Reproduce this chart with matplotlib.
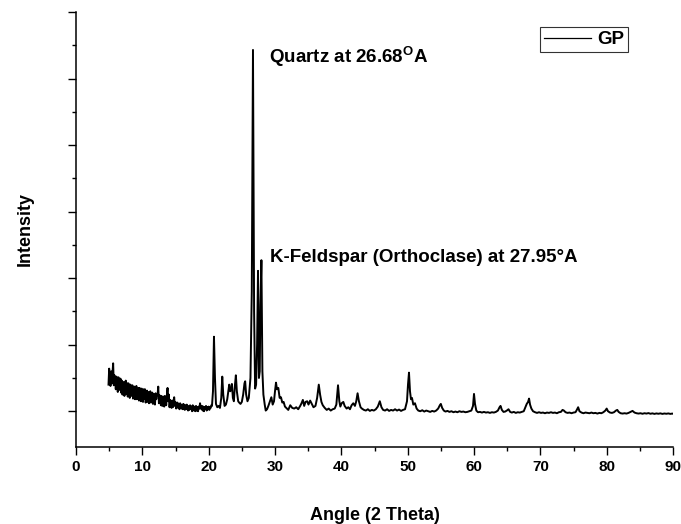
import numpy as np
import matplotlib
matplotlib.use("Agg")
import matplotlib.pyplot as plt
from matplotlib.ticker import MultipleLocator, FixedLocator

plt.rcParams['font.family'] = ['Liberation Sans', 'DejaVu Sans']
plt.rcParams['mathtext.fontset'] = 'custom'
plt.rcParams['mathtext.bf'] = 'Liberation Sans:bold'
plt.rcParams['mathtext.rm'] = 'Liberation Sans'

# low-angle part of the scan: 4.9 to 20.4 deg, 0.1 deg step (noisy background)
noise_start = 4.9
noise_step = 0.1
noise_counts = [
    1400, 1640, 1450, 1380, 1600, 1420, 1560, 1720, 1390, 1540,
    1470, 1330, 1520, 1420, 1290, 1510, 1460, 1320, 1490, 1280,
    1460, 1250, 1380, 1440, 1230, 1310, 1460, 1260, 1420, 1220,
    1420, 1330, 1200, 1400, 1280, 1230, 1390, 1190, 1320, 1370,
    1180, 1300, 1380, 1180, 1260, 1350, 1160, 1350, 1230, 1150,
    1340, 1250, 1140, 1330, 1190, 1330, 1130, 1220, 1310, 1140,
    1290, 1120, 1240, 1300, 1130, 1200, 1280, 1110, 1260, 1190,
    1100, 1270, 1180, 1250, 1250, 1370, 1120, 1240, 1180, 1090,
    1230, 1080, 1180, 1220, 1070, 1230, 1140, 1090, 1240, 1350,
    1150, 1250, 1060, 1170, 1110, 1050, 1160, 1060, 1150, 1210,
    1080, 1140, 1040, 1100, 1130, 1050, 1110, 1030, 1120, 1070,
    1040, 1100, 1030, 1110, 1060, 1020, 1090, 1030, 1100, 1050,
    1010, 1080, 1020, 1090, 1040, 1070, 1000, 1090, 1030, 1010,
    1070, 1000, 1080, 1010, 1060, 1000, 1070, 1040, 1120, 1060,
    1030, 1080, 1010, 1070, 1000, 1060, 1040, 1080, 1010, 1060,
    1030, 1070, 1020, 1060, 1050, 1090,
]

# peak region and high-angle part (angle, counts)
peak_angles = [
    20.5, 20.65, 20.8, 20.95, 21.1, 21.3, 21.5, 21.7, 21.9, 22.05,
    22.2, 22.4, 22.6, 22.8, 23.0, 23.1, 23.25, 23.4, 23.5, 23.65,
    23.8, 23.95, 24.1, 24.25, 24.45, 24.6, 24.8, 25.0, 25.2, 25.4,
    25.5, 25.65, 25.85, 26.05, 26.3, 26.5, 26.68, 26.85, 27.0, 27.15,
    27.3, 27.44, 27.58, 27.7, 27.8, 27.95, 28.1, 28.25, 28.45, 28.6,
    28.8, 29.0, 29.25, 29.45, 29.65, 29.85, 30.0, 30.15, 30.3, 30.5,
    30.7, 30.9, 31.1, 31.3, 31.5, 31.8, 32.0, 32.3, 32.6, 32.9,
    33.2, 33.5, 33.8, 34.0, 34.2, 34.4, 34.6, 34.85, 35.05, 35.3,
    35.5, 35.8, 36.1, 36.35, 36.6, 36.8, 37.0, 37.2, 37.5, 37.8,
    38.1, 38.4, 38.7, 39.0, 39.25, 39.5, 39.7, 39.85, 40.05, 40.3,
    40.5, 40.8, 41.05, 41.3, 41.55, 41.8, 42.05, 42.25, 42.45, 42.65,
    42.9, 43.1, 43.4, 43.7, 44.0, 44.3, 44.6, 44.9, 45.2, 45.5,
    45.8, 46.05, 46.3, 46.6, 46.9, 47.2, 47.5, 47.8, 48.1, 48.4,
    48.7, 49.0, 49.3, 49.6, 49.9, 50.05, 50.2, 50.35, 50.5, 50.65,
    50.85, 51.1, 51.35, 51.6, 51.9, 52.2, 52.5, 52.8, 53.1, 53.4,
    53.7, 54.0, 54.3, 54.6, 54.85, 55.0, 55.2, 55.45, 55.7, 56.0,
    56.3, 56.6, 56.9, 57.2, 57.5, 57.8, 58.1, 58.4, 58.7, 59.0,
    59.3, 59.6, 59.85, 60.0, 60.15, 60.35, 60.6, 60.9, 61.2, 61.5,
    61.8, 62.1, 62.4, 62.7, 63.0, 63.3, 63.6, 63.85, 64.0, 64.2,
    64.45, 64.7, 64.95, 65.2, 65.45, 65.7, 66.0, 66.3, 66.6, 66.9,
    67.2, 67.5, 67.75, 67.95, 68.15, 68.3, 68.45, 68.65, 68.9, 69.2,
    69.5, 69.8, 70.1, 70.4, 70.7, 71.0, 71.3, 71.6, 71.9, 72.2,
    72.5, 72.8, 73.1, 73.35, 73.55, 73.8, 74.1, 74.4, 74.7, 75.0,
    75.3, 75.5, 75.7, 75.9, 76.2, 76.5, 76.8, 77.1, 77.4, 77.7,
    78.0, 78.3, 78.6, 78.9, 79.2, 79.5, 79.8, 80.0, 80.2, 80.5,
    80.8, 81.1, 81.4, 81.6, 81.8, 82.1, 82.4, 82.7, 83.0, 83.3,
    83.6, 83.9, 84.2, 84.5, 84.8, 85.1, 85.4, 85.7, 86.0, 86.3,
    86.6, 86.9, 87.2, 87.5, 87.8, 88.1, 88.4, 88.7, 89.0, 89.3,
    89.6, 89.9, 90.0,
]
peak_counts = [
    1080, 1300, 2120, 1500, 1110, 1060, 1080, 1050, 1200, 1520,
    1250, 1080, 1100, 1180, 1320, 1400, 1300, 1330, 1410, 1200,
    1150, 1380, 1540, 1300, 1150, 1130, 1110, 1140, 1250, 1420,
    1450, 1250, 1150, 1200, 1500, 2800, 6430, 2500, 1340, 1400,
    2000, 3110, 1500, 1600, 2600, 3270, 1600, 1250, 1100, 1010,
    1030, 1080, 1150, 1210, 1100, 1150, 1300, 1430, 1330, 1350,
    1200, 1210, 1130, 1140, 1070, 1040, 1020, 1090, 1050, 1040,
    1060, 1030, 1080, 1120, 1170, 1080, 1140, 1150, 1100, 1160,
    1120, 1060, 1080, 1200, 1400, 1250, 1140, 1090, 1050, 1020,
    1040, 1010, 1030, 1040, 1100, 1390, 1150, 1070, 1120, 1140,
    1080, 1040, 1060, 1030, 1090, 1120, 1080, 1150, 1270, 1150,
    1060, 1040, 1020, 1010, 1030, 1005, 1020, 1010, 1030, 1070,
    1150, 1060, 1020, 1010, 1030, 1005, 1020, 1010, 1030, 1010,
    1025, 1005, 1020, 1030, 1150, 1400, 1580, 1300, 1180, 1200,
    1100, 1120, 1040, 1010, 1000, 1015, 995, 1010, 1000, 990,
    1005, 995, 1010, 1040, 1090, 1110, 1050, 1010, 995, 1005,
    990, 1000, 985, 995, 985, 1000, 990, 995, 985, 990,
    1000, 1010, 1080, 1260, 1110, 1010, 985, 990, 980, 990,
    980, 985, 975, 985, 980, 990, 1010, 1060, 1080, 1020,
    990, 995, 1010, 1030, 990, 980, 990, 975, 985, 980,
    990, 1000, 1060, 1110, 1140, 1190, 1100, 1040, 1000, 985,
    975, 985, 975, 980, 970, 980, 975, 985, 975, 980,
    970, 985, 990, 1020, 1010, 985, 975, 980, 970, 980,
    985, 1020, 1060, 1000, 980, 970, 980, 975, 970, 980,
    970, 975, 965, 975, 970, 985, 1010, 1040, 1000, 980,
    975, 985, 1010, 1020, 990, 970, 965, 970, 965, 975,
    990, 1005, 980, 970, 965, 970, 962, 970, 965, 972,
    962, 968, 960, 967, 962, 968, 960, 966, 962, 967,
    960, 965, 962,
]

noise_angles = noise_start + noise_step * np.arange(len(noise_counts))
angle = np.concatenate([noise_angles, peak_angles])
counts = np.concatenate([noise_counts, peak_counts])

fig = plt.figure(figsize=(6.81, 5.24), dpi=100)
ax = fig.add_axes([76 / 681, 1 - 446.5 / 524, 597 / 681, 434.5 / 524])

ax.plot(angle, counts, color='black', linewidth=1.4, label='GP')

ax.set_xlim(0, 90)
ax.set_ylim(470, 7000)
ax.xaxis.set_major_locator(MultipleLocator(10))
ax.xaxis.set_minor_locator(MultipleLocator(5))
ax.yaxis.set_major_locator(MultipleLocator(1000))
ax.yaxis.set_minor_locator(FixedLocator(np.arange(1500, 7000, 1000)))
ax.tick_params(which='major', direction='out', length=5.5, width=1.0,
               labelsize=11, pad=4)
ax.tick_params(which='minor', direction='out', length=3, width=1.0)
ax.tick_params(axis='y', labelleft=False)
for lab in ax.get_xticklabels():
    lab.set_fontweight('bold')

for side in ['top', 'right']:
    ax.spines[side].set_visible(False)
for side in ['left', 'bottom']:
    ax.spines[side].set_linewidth(1.1)

ax.set_xlabel('Angle (2 Theta)', fontsize=13, fontweight='bold', labelpad=24)
ax.set_ylabel('Intensity', fontsize=13, fontweight='bold', labelpad=24)

ax.text(29.1, 6229, r'Quartz at 26.68$^{\mathbf{O}}$A', fontsize=13.5,
        fontweight='bold', va='baseline', ha='left')
ax.text(29.25, 3247, 'K-Feldspar (Orthoclase) at 27.95\u00b0A', fontsize=13.5,
        fontweight='bold', va='baseline', ha='left')

leg = ax.legend(loc='upper right', bbox_to_anchor=(0.9246, 0.965),
                borderaxespad=0, fancybox=False, frameon=True,
                handlelength=2.5, handletextpad=0.35, borderpad=0.2,
                prop={'weight': 'bold', 'size': 13.5})
leg.get_frame().set_edgecolor('black')
leg.get_frame().set_linewidth(0.8)
for handle in leg.get_lines():
    handle.set_linewidth(0.9)

fig.savefig('out.png', dpi=100)
